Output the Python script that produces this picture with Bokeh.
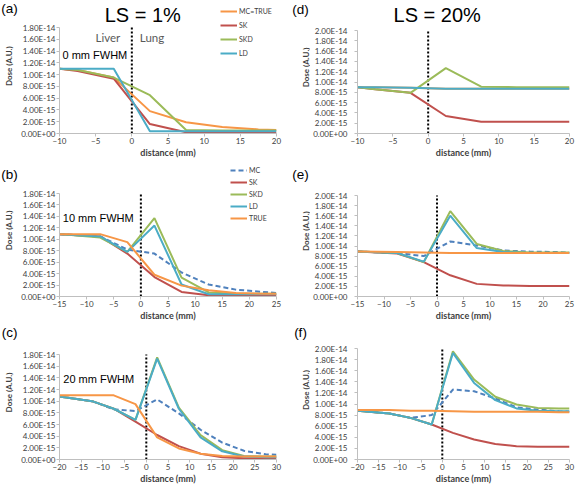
import math
from bokeh.plotting import figure
from bokeh.layouts import column, row
from bokeh.models import (Range1d, FixedTicker, CustomJSTickFormatter, Label,
                          Legend, LegendItem)
from bokeh.embed import file_html
from bokeh.resources import INLINE

UNIT = 1e-15  # values below are in units of 1e-15 A.U.

# ---- Panel (a) / (d): 0 mm FWHM ----
x_ad = [-10, -7.5, -2.5, 2.5, 7.5, 12.5, 17.5, 20]
a_mctrue = [11.0, 10.8, 9.5, 3.8, 1.9, 1.1, 0.7, 0.6]
a_sk = [11.0, 10.6, 9.3, 1.6, 0.2, 0.1, 0.1, 0.1]
a_skd = [11.0, 10.8, 9.5, 6.5, 0.6, 0.5, 0.5, 0.5]
a_ld = [11.0, 11.0, 11.0, 0.4, 0.4, 0.4, 0.4, 0.4]

d_mctrue = [9.0, 9.0, 8.9, 8.7, 8.7, 8.7, 8.7, 8.7]
d_sk = [9.0, 8.6, 7.9, 3.4, 2.3, 2.3, 2.3, 2.3]
d_skd = [9.0, 8.6, 7.9, 12.7, 9.1, 9.0, 9.0, 9.0]
d_ld = [9.0, 9.0, 8.9, 8.7, 8.7, 8.7, 8.7, 8.7]

# ---- Panel (b) / (e): 10 mm FWHM ----
x_be = [-15, -7.5, -2.5, 2.5, 7.5, 12.5, 17.5, 22.5, 25]
b_mc = [10.9, 10.5, 8.2, 7.5, 4.2, 2.1, 1.2, 0.8, 0.6]
b_sk = [10.9, 10.5, 7.5, 3.4, 0.8, 0.2, 0.2, 0.2, 0.2]
b_skd = [10.9, 10.3, 7.8, 13.7, 3.3, 0.7, 0.5, 0.5, 0.5]
b_ld = [10.9, 10.5, 7.8, 12.4, 2.1, 0.4, 0.4, 0.4, 0.4]
b_true = [10.9, 10.9, 9.5, 3.8, 1.9, 1.1, 0.6, 0.5, 0.5]

e_mc = [8.9, 8.6, 8.0, 10.9, 10.1, 9.1, 8.9, 8.8, 8.7]
e_sk = [8.9, 8.5, 6.8, 4.2, 2.5, 2.2, 2.1, 2.1, 2.1]
e_skd = [8.9, 8.6, 6.8, 16.9, 10.4, 9.0, 8.7, 8.7, 8.7]
e_ld = [8.9, 8.6, 6.9, 16.0, 9.6, 8.8, 8.6, 8.6, 8.6]
e_true = [8.9, 8.8, 8.7, 8.6, 8.6, 8.6, 8.6, 8.6, 8.6]

# ---- Panel (c) / (f): 20 mm FWHM ----
x_cf = [-20, -12.5, -7.5, -2.5, 2.5, 7.5, 12.5, 17.5, 22.5, 27.5, 30]
c_mc = [10.8, 10.0, 8.6, 8.3, 10.3, 7.9, 5.1, 2.9, 1.5, 0.9, 0.8]
c_sk = [10.8, 10.0, 8.7, 6.5, 4.2, 2.3, 1.0, 0.4, 0.2, 0.2, 0.2]
c_skd = [10.8, 10.0, 8.7, 6.8, 17.5, 8.9, 4.2, 1.6, 0.6, 0.5, 0.5]
c_ld = [10.8, 10.0, 8.7, 6.8, 17.3, 8.7, 3.8, 1.4, 0.5, 0.4, 0.4]
c_true = [11.0, 11.0, 11.0, 9.5, 3.8, 1.9, 1.0, 0.6, 0.5, 0.5, 0.5]

f_mc = [8.8, 8.3, 7.5, 8.0, 12.6, 12.3, 11.0, 9.4, 9.0, 8.7, 8.6]
f_sk = [8.8, 8.3, 7.5, 6.3, 4.8, 3.6, 2.8, 2.4, 2.3, 2.3, 2.3]
f_skd = [8.8, 8.3, 7.5, 6.3, 19.5, 14.4, 11.3, 9.9, 9.3, 9.2, 9.2]
f_ld = [8.8, 8.3, 7.5, 6.3, 19.2, 13.8, 10.7, 9.2, 8.8, 8.7, 8.7]
f_true = [8.9, 8.9, 8.8, 8.8, 8.7, 8.6, 8.6, 8.6, 8.6, 8.5, 8.5]

COLORS = {"MC": "#4F81BD", "SK": "#C0504D", "SKD": "#9BBB59",
          "LD": "#4BACC6", "TRUE": "#F79646"}

Y_FMT = """
if (Math.abs(tick) < 1e-30) return "0.00E+00";
const e = Math.floor(Math.log10(Math.abs(tick)) + 1e-9);
const m = tick / Math.pow(10, e);
const s = e < 0 ? "-" : "+";
return m.toFixed(2) + "E" + s + String(Math.abs(e)).padStart(2, "0");
"""

AX_COLOR = "#bfbfbf"
TXT_COLOR = "#404040"

# ---------------- layout geometry (page pixels) ----------------
COLS = {  # strip_left, strip_w, plot_w, frame_left, frame_right, y-label standoff
    "L": dict(sx=0, sw=18, pw=272, fl=52, fr=276, so=1),
    "R": dict(sx=290, sw=20, pw=266, fl=351, fr=569, so=7),
}
ROWS = [dict(top=0, h=162, fb=133), dict(top=162, h=163, fb=296),
        dict(top=325, h=163, fb=459)]


class Panel:
    def __init__(self, col, rw, xlo, xhi, ymax, ymax_page):
        c = COLS[col]
        self.col = col
        self.c, self.r = c, rw
        self.xlo, self.xhi, self.ymax, self.ymp = xlo, xhi, ymax, ymax_page
        fig_left = c["sx"] + c["sw"]
        top, fb, h = rw["top"], rw["fb"], rw["h"]
        yend = ymax * (fb - top) / (fb - ymax_page)
        p = figure(width=c["pw"], height=h, x_range=Range1d(xlo, xhi),
                   y_range=Range1d(0, yend), output_backend="svg",
                   toolbar_location=None,
                   min_border_left=c["fl"] - fig_left,
                   min_border_right=fig_left + c["pw"] - c["fr"],
                   min_border_top=0, min_border_bottom=top + h - fb)
        p.outline_line_color = None
        p.grid.visible = False
        p.xaxis.ticker = FixedTicker(ticks=list(range(xlo, xhi + 1, 5)))
        nt = int(round(ymax / 2e-15))
        p.yaxis.ticker = FixedTicker(ticks=[float(f"{2 * i}e-15") for i in range(nt + 1)])
        p.yaxis.formatter = CustomJSTickFormatter(code=Y_FMT)
        p.yaxis.bounds = (0, ymax)
        for ax in (p.xaxis[0], p.yaxis[0]):
            ax.axis_line_color = AX_COLOR
            ax.major_tick_line_color = AX_COLOR
            ax.minor_tick_line_color = None
            ax.major_tick_in = 0
            ax.major_tick_out = 3
            ax.major_label_text_font = "Lato"
            ax.major_label_text_font_size = "8px"
            ax.major_label_text_color = TXT_COLOR
            ax.major_label_standoff = 1
        p.yaxis.major_label_standoff = c["so"]
        p.xaxis.axis_label = "distance (mm)"
        p.xaxis.axis_label_text_font = "Lato"
        p.xaxis.axis_label_text_font_style = "bold"
        p.xaxis.axis_label_text_font_size = "9px"
        p.xaxis.axis_label_text_color = TXT_COLOR
        p.xaxis.axis_label_standoff = 0
        p.segment(x0=[0], y0=[0], x1=[0], y1=[ymax], line_color="black",
                  line_dash="2 2", line_width=2)
        self.p = p
        s = figure(width=c["sw"], height=h, x_range=Range1d(0, c["sw"]),
                   y_range=Range1d(0, h), output_backend="svg",
                   toolbar_location=None, min_border=0,
                   x_axis_location=None, y_axis_location=None)
        s.outline_line_color = None
        s.grid.visible = False
        self.s = s

    # page pixel -> data coordinates of the plot
    def dx(self, px):
        c = self.c
        return self.xlo + (px - c["fl"]) / (c["fr"] - c["fl"]) * (self.xhi - self.xlo)

    def dy(self, py):
        fb = self.r["fb"]
        return self.ymax * (fb - py) / (fb - self.ymp)

    def text(self, px, py, text, size, color="black", font="Liberation Sans",
             align="center", baseline="middle"):
        self.p.add_layout(Label(x=self.dx(px), y=self.dy(py), text=text,
                                text_font=font, text_font_size=size,
                                text_color=color, text_align=align,
                                text_baseline=baseline))

    def strip(self, tag, tag_cx, tag_cy):
        c, r = self.c, self.r
        h = r["h"]
        self.s.add_layout(Label(x=tag_cx - c["sx"], y=r["top"] + h - tag_cy,
                                text=tag, text_font="Liberation Sans",
                                text_font_size="13.5px", text_color="black",
                                text_align="center", text_baseline="middle"))
        mid = (self.ymp + r["fb"]) / 2
        dose_x = {"L": 8.5, "R": 305}[self.col]
        self.s.add_layout(Label(x=dose_x - c["sx"], y=r["top"] + h - mid,
                                text="Dose (A.U.)", text_font="Lato",
                                text_font_size="8px", text_font_style="bold",
                                text_color=TXT_COLOR, text_align="center",
                                text_baseline="middle", angle=math.pi / 2))

    def series(self, x, series):
        items = []
        for name, vals, key, dash in series:
            r = self.p.line(x, [v * UNIT for v in vals], line_color=COLORS[key],
                            line_width=2, line_dash=dash)
            items.append(LegendItem(label=name, renderers=[r]))
        return items

    def legend(self, items, glyph_left_px, bottom_py, spacing):
        lg = Legend(items=items,
                    location=(glyph_left_px - self.c["fl"], self.r["fb"] - bottom_py),
                    orientation="vertical", background_fill_alpha=0,
                    border_line_color=None, label_text_font="Lato",
                    label_text_font_size="7px", label_text_color=TXT_COLOR,
                    glyph_width=17, glyph_height=10, label_height=10,
                    label_standoff=2, spacing=spacing, padding=0, margin=0)
        self.p.add_layout(lg)


# ---------------- Row 1 ----------------
A = Panel("L", ROWS[0], -10, 20, 1.8e-14, 27)
items = A.series(x_ad, [("MC=TRUE", a_mctrue, "TRUE", "solid"),
                        ("SK", a_sk, "SK", "solid"),
                        ("SKD", a_skd, "SKD", "solid"),
                        ("LD", a_ld, "LD", "solid")])
A.legend(items, 213, 58, 4)
A.text(138, 14, "LS = 1%", "20px")
A.text(102, 37, "Liver", "11.5px", color="#595959", font="Lato")
A.text(147.5, 37, "Lung", "11.5px", color="#595959", font="Lato")
A.text(88.5, 54, "0 mm FWHM", "11px")
A.strip("(a)", 9, 9.5)

D = Panel("R", ROWS[0], -10, 20, 2.0e-14, 30)
D.series(x_ad, [("MC=TRUE", d_mctrue, "TRUE", "solid"),
                ("SK", d_sk, "SK", "solid"),
                ("SKD", d_skd, "SKD", "solid"),
                ("LD", d_ld, "LD", "solid")])
D.text(433, 14, "LS = 20%", "20px")
D.strip("(d)", 300, 11)

# ---------------- Row 2 ----------------
B = Panel("L", ROWS[1], -15, 25, 1.8e-14, 193)
items = B.series(x_be, [("MC", b_mc, "MC", "5 3"),
                        ("SK", b_sk, "SK", "solid"),
                        ("SKD", b_skd, "SKD", "solid"),
                        ("LD", b_ld, "LD", "solid"),
                        ("TRUE", b_true, "TRUE", "solid")])
B.legend(items, 223, 223, 2)
B.text(92, 217.5, "10 mm FWHM", "11px")
B.strip("(b)", 9, 177)

E = Panel("R", ROWS[1], -15, 25, 2.0e-14, 195)
E.series(x_be, [("MC", e_mc, "MC", "5 3"),
                ("SK", e_sk, "SK", "solid"),
                ("SKD", e_skd, "SKD", "solid"),
                ("LD", e_ld, "LD", "solid"),
                ("TRUE", e_true, "TRUE", "solid")])
E.strip("(e)", 300, 177)

# ---------------- Row 3 ----------------
C = Panel("L", ROWS[2], -20, 30, 1.8e-14, 354)
C.series(x_cf, [("MC", c_mc, "MC", "5 3"),
                ("SK", c_sk, "SK", "solid"),
                ("SKD", c_skd, "SKD", "solid"),
                ("LD", c_ld, "LD", "solid"),
                ("TRUE", c_true, "TRUE", "solid")])
C.text(92.5, 378.5, "20 mm FWHM", "11px")
C.strip("(c)", 9, 334)

F = Panel("R", ROWS[2], -20, 30, 2.0e-14, 348)
F.series(x_cf, [("MC", f_mc, "MC", "5 3"),
                ("SK", f_sk, "SK", "solid"),
                ("SKD", f_skd, "SKD", "solid"),
                ("LD", f_ld, "LD", "solid"),
                ("TRUE", f_true, "TRUE", "solid")])
F.strip("(f)", 300, 334)

layout = column(row(A.s, A.p, D.s, D.p),
                row(B.s, B.p, E.s, E.p),
                row(C.s, C.p, F.s, F.p))

open("out.html", "w").write(file_html(layout, INLINE))
